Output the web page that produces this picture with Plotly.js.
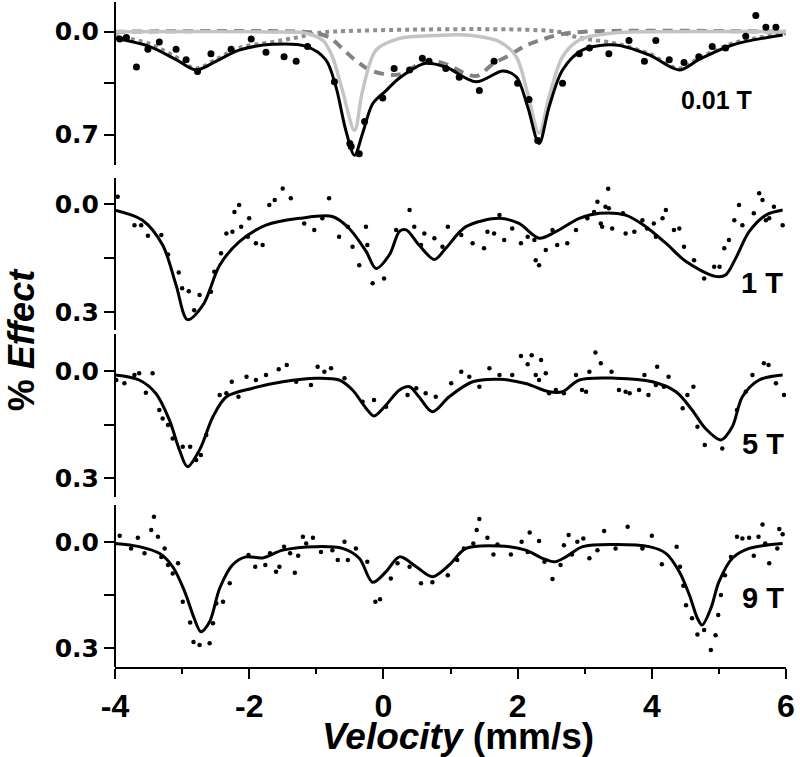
<!DOCTYPE html>
<html>
<head>
<meta charset="utf-8">
<script src="https://cdn.plot.ly/plotly-3.0.1.min.js"></script>
<style>html,body{margin:0;padding:0;background:#fff;}#chart{width:800px;height:757px;}</style>
</head>
<body>
<div id="chart"></div>
<script>
// ---------- Panel 1: 0.01 T ----------
const fit1X = [-4.0,-3.49,-3.09,-2.79,-2.49,-2.15,-1.65,-1.15,-0.86,-0.71,-0.56,-0.43,-0.31,-0.16,0.04,0.24,0.63,0.93,1.38,1.78,1.98,2.15,2.32,2.47,2.67,2.97,3.46,3.96,4.41,4.70,5.20,5.95];
const fit1Y = [0.045,0.10,0.19,0.26,0.20,0.125,0.086,0.10,0.19,0.37,0.67,0.84,0.69,0.49,0.40,0.315,0.215,0.24,0.34,0.267,0.306,0.51,0.76,0.51,0.26,0.124,0.09,0.158,0.26,0.19,0.09,0.022];
const dblX = [-4,-1.5,-1.15,-0.9,-0.76,-0.61,-0.43,-0.31,-0.11,0.24,0.8,1.23,1.73,1.98,2.15,2.32,2.47,2.67,2.92,3.4,4,6];
const dblY = [0,0.002,0.01,0.06,0.17,0.40,0.67,0.40,0.125,0.045,0.025,0.022,0.068,0.17,0.42,0.69,0.44,0.17,0.056,0.01,0,0];
const dshX = [-4,-1.2,-1.0,-0.8,-0.6,-0.4,-0.15,0.24,0.63,0.93,1.2,1.4,1.63,1.88,2.1,2.32,2.62,3.0,6];
const dshY = [0,0,0.01,0.04,0.12,0.2,0.27,0.29,0.2,0.22,0.28,0.30,0.22,0.16,0.1,0.06,0.02,0,0];
const dotX = [-4,-3.5,-3.1,-2.8,-2.5,-2.15,-1.65,-1.3,-1.0,-0.8,2.6,2.9,3.46,3.96,4.41,4.70,5.2,5.6,6];
const dotY = [0.03,0.08,0.17,0.25,0.19,0.11,0.07,0.04,0.01,0,0,0.04,0.08,0.15,0.25,0.18,0.08,0.04,0.01];
const d1X = [-3.93,-3.83,-3.68,-3.51,-3.34,-3.09,-2.94,-2.77,-2.57,-2.27,-1.97,-1.75,-1.48,-1.30,-1.13,-0.73,-0.50,-0.48,-0.36,-0.28,-0.01,0.16,0.39,0.58,0.68,0.93,1.13,1.43,1.65,2.00,2.17,2.30,2.67,2.92,3.07,3.36,3.66,3.89,4.06,4.26,4.48,4.70,4.90,5.10,5.40,5.55,5.70,5.85];
const d1Y = [0.05,0.04,0.24,0.12,0.07,0.12,0.19,0.27,0.15,0.12,0.05,0.14,0.17,0.20,0.10,0.34,0.76,0.78,0.83,0.61,0.45,0.25,0.26,0.18,0.20,0.25,0.31,0.40,0.20,0.35,0.46,0.74,0.35,0.15,0.11,0.15,0.06,0.20,0.06,0.19,0.21,0.17,0.10,0.11,0.03,-0.11,-0.03,-0.03];

// ---------- Panel 2: 1 T ----------
const fit2X = [-4.0,-3.59,-3.29,-3.09,-2.92,-2.69,-2.44,-2.15,-1.75,-1.25,-0.76,-0.51,-0.26,-0.11,0.09,0.24,0.34,0.53,0.76,0.93,1.23,1.73,2.02,2.32,2.57,2.92,3.22,3.61,3.91,4.21,4.51,4.95,5.10,5.25,5.45,5.70,5.95];
const fit2Y = [0.016,0.044,0.113,0.224,0.32,0.28,0.169,0.104,0.058,0.039,0.034,0.067,0.13,0.178,0.14,0.075,0.071,0.113,0.153,0.122,0.062,0.039,0.053,0.094,0.076,0.039,0.025,0.03,0.062,0.108,0.159,0.20,0.196,0.15,0.076,0.03,0.016];
const d2X = [-3.96,-3.71,-3.61,-3.51,-3.31,-3.21,-3.05,-3.0,-2.90,-2.82,-2.74,-2.57,-2.52,-2.42,-2.34,-2.25,-2.22,-2.15,-2.12,-2.02,-2.0,-1.90,-1.80,-1.70,-1.62,-1.50,-1.38,-1.18,-1.03,-0.91,-0.81,-0.66,-0.53,-0.46,-0.36,-0.26,-0.24,-0.16,0.01,0.19,
  0.39,0.46,0.56,0.61,0.76,0.88,0.96,1.16,1.33,1.50,1.55,1.65,1.73,1.80,1.92,2.05,2.15,2.25,2.27,2.32,2.42,2.52,2.59,2.74,2.87,3.04,3.14,3.19,3.24,3.26,3.31,3.36,3.35,3.41,3.57,3.61,3.74,3.86,3.93,4.03,4.06,4.16,4.21,4.33,4.41,4.48,4.63,4.78,4.93,5.01,5.08,5.15,5.23,5.30,5.35,5.52,5.60,5.65,5.70,5.75,5.82,5.95];
const d2Y = [-0.021,0.058,0.058,0.087,0.085,0.139,0.189,0.233,0.241,0.294,0.252,0.243,0.187,0.136,0.081,0.076,0.021,0.002,0.062,0.09,0.039,0.108,0.113,0.002,-0.012,-0.044,-0.017,0.053,0.071,0.039,-0.017,0.09,0.062,0.118,0.169,0.062,0.113,0.219,0.206,0.071,
  0.016,0.062,0.113,0.081,0.094,0.118,0.062,0.085,0.108,0.122,0.076,0.081,0.03,0.099,0.067,0.108,0.09,0.099,0.155,0.169,0.127,0.071,0.113,0.108,0.071,0.039,0.021,-0.007,0.053,0.062,0.007,0.011,-0.043,0.067,0.025,0.081,0.076,0.044,0.067,0.053,0.09,0.039,0.016,0.071,0.067,0.118,0.155,0.206,0.173,0.173,0.122,0.099,0.044,0.002,0.058,0.025,-0.031,-0.012,0.044,0.039,0.007,0.058];

// ---------- Panel 3: 5 T ----------
const fit3X = [-4.0,-3.64,-3.39,-3.19,-3.04,-2.92,-2.74,-2.54,-2.34,-1.95,-1.50,-1.0,-0.66,-0.46,-0.26,-0.14,0.04,0.24,0.39,0.53,0.73,0.98,1.33,1.73,2.12,2.47,2.67,2.92,3.46,4.01,4.36,4.60,4.80,5.03,5.20,5.35,5.60,5.95];
const fit3Y = [0.011,0.025,0.063,0.137,0.221,0.268,0.221,0.128,0.072,0.048,0.03,0.02,0.025,0.053,0.104,0.126,0.095,0.053,0.044,0.072,0.114,0.072,0.03,0.023,0.035,0.058,0.058,0.025,0.02,0.03,0.058,0.109,0.161,0.193,0.156,0.072,0.025,0.011];
const d3X = [-3.98,-3.86,-3.71,-3.64,-3.54,-3.44,-3.34,-3.29,-3.21,-3.14,-2.99,-2.88,-2.79,-2.72,-2.64,-2.44,-2.34,-2.26,-2.16,-2.04,-1.90,-1.75,-1.56,-1.44,-1.30,-1.08,-0.98,-0.88,-0.78,-0.58,-0.31,-0.14,0.04,
  0.36,0.49,0.63,0.78,1.01,1.16,1.28,1.43,1.58,1.73,1.92,2.05,2.15,2.21,2.27,2.35,2.42,2.32,2.47,2.57,2.69,2.87,2.96,3.02,3.07,3.16,3.24,3.40,3.51,3.61,3.67,3.81,3.89,3.95,4.06,4.08,4.18,4.25,4.46,4.53,4.62,4.68,4.79,5.05,5.27,5.40,5.50,5.67,5.74,5.85,5.97];
const d3Y = [0.025,0.034,0.011,0.006,0.061,0.006,0.109,0.133,0.151,0.189,0.212,0.212,0.249,0.235,0.179,0.067,0.062,0.03,0.072,0.016,0.025,0.011,-0.005,-0.017,0.03,0.039,-0.012,0.002,-0.008,0.02,0.086,0.081,0.1,
  0.067,0.048,0.062,0.072,0.034,0.002,0.016,0.044,-0.008,0.011,0.011,-0.042,-0.019,-0.044,0.011,-0.031,0.006,0.025,0.062,0.053,0.062,0.011,0.053,0.058,0.002,-0.052,-0.022,0.002,0.053,0.058,0.062,0.053,0.011,0.067,0.039,-0.012,0.044,0.016,0.104,0.067,0.044,0.156,0.207,0.217,0.109,0.058,0.011,-0.022,-0.017,0.034,0.067];

// ---------- Panel 4: 9 T ----------
const fit4X = [-4.0,-3.64,-3.34,-3.14,-2.96,-2.82,-2.72,-2.59,-2.44,-2.25,-2.05,-1.80,-1.50,-1.0,-0.61,-0.36,-0.16,0.04,0.24,0.49,0.73,0.98,1.23,1.73,2.12,2.37,2.55,2.72,2.97,3.46,3.96,4.21,4.41,4.56,4.68,4.75,4.88,5.0,5.20,5.45,5.95];
const fit4Y = [0.003,0.012,0.031,0.069,0.14,0.215,0.253,0.225,0.13,0.064,0.041,0.044,0.022,0.012,0.017,0.045,0.113,0.083,0.041,0.069,0.097,0.064,0.017,0.01,0.022,0.045,0.055,0.041,0.012,0.006,0.012,0.031,0.083,0.149,0.215,0.234,0.187,0.112,0.045,0.017,0.003];
const d4X = [-3.93,-3.76,-3.66,-3.56,-3.46,-3.42,-3.36,-3.31,-3.26,-3.21,-3.14,-3.06,-2.99,-2.88,-2.83,-2.74,-2.59,-2.54,-2.49,-2.39,-2.29,-2.01,-1.91,-1.76,-1.69,-1.60,-1.55,-1.48,-1.39,-1.32,-1.27,-1.20,-1.15,-1.05,-0.93,-0.76,-0.68,-0.58,-0.53,-0.41,-0.24,-0.12,-0.05,0.11,0.21,
  0.39,0.56,0.73,0.96,1.10,1.20,1.34,1.39,1.43,1.55,1.64,1.70,1.90,2.06,2.18,2.15,2.32,2.40,2.52,2.64,2.69,2.76,2.81,2.89,2.98,3.07,3.19,3.29,3.46,3.64,3.86,4.0,4.15,4.37,4.42,4.47,4.51,4.60,4.68,4.78,4.95,4.88,4.99,5.03,5.09,5.18,5.27,5.35,5.45,5.52,5.59,5.65,5.69,5.75,5.87,5.90,5.95];
const d4Y = [-0.019,0.017,-0.013,0.031,-0.035,-0.073,-0.016,0.041,0.017,0.064,0.088,0.059,0.168,0.227,0.282,0.291,0.286,0.229,0.173,0.168,0.116,0.036,0.069,0.064,0.031,0.083,0.069,0.012,0.031,0.086,0.038,-0.016,0.003,-0.013,0.027,0.022,0.05,-0.002,0.05,0.017,0.055,0.168,0.161,0.102,0.059,
  0.069,0.116,0.113,0.093,0.05,0.017,0.003,-0.035,-0.066,-0.013,0.034,0.006,0.034,-0.002,-0.028,0.027,-0.004,0.055,0.104,0.064,0.008,-0.021,0.034,-0.002,-0.011,0.045,0.022,-0.032,0.017,-0.044,0.017,-0.019,0.062,0.012,0.069,0.123,0.178,0.215,0.261,0.248,0.263,0.305,0.206,0.149,0.093,0.041,-0.016,-0.011,-0.013,0.038,-0.016,-0.051,0.003,0.059,0.017,-0.038,-0.023];

// ---------- tick / label text ----------
const xTicks = [-4,-2,0,2,4,6];
const panelLabels = ['0.01 T','1 T','5 T','9 T'];
const yTickText1 = ['0.0','','0.7'];
const yTickText = ['0.0','','0.3'];

const fitLine = {color:'#000', width:3, shape:'spline', smoothing:0.9};
function dataTrace(x,y,ax,size){return {x:x,y:y,xaxis:'x'+ax,yaxis:'y'+ax,mode:'markers',type:'scatter',marker:{color:'#000',size:size,symbol:'circle'},hoverinfo:'skip'};}
function fitTrace(x,y,ax){return {x:x,y:y,xaxis:'x'+ax,yaxis:'y'+ax,mode:'lines',type:'scatter',line:fitLine,hoverinfo:'skip'};}

const traces = [
  {x:dotX,y:dotY,xaxis:'x',yaxis:'y',mode:'lines',type:'scatter',line:{color:'#8e8e8e',width:4,dash:'dot',shape:'spline'}},
  {x:dshX,y:dshY,xaxis:'x',yaxis:'y',mode:'lines',type:'scatter',line:{color:'#828282',width:4,dash:'10px,7px',shape:'spline'}},
  {x:dblX,y:dblY,xaxis:'x',yaxis:'y',mode:'lines',type:'scatter',line:{color:'#c4c4c4',width:3.5,shape:'spline',smoothing:0.9}},
  dataTrace(d1X,d1Y,'',7),
  fitTrace(fit1X,fit1Y,''),
  dataTrace(d2X,d2Y,'2',4.5),
  fitTrace(fit2X,fit2Y,'2'),
  dataTrace(d3X,d3Y,'3',4.5),
  fitTrace(fit3X,fit3Y,'3'),
  dataTrace(d4X,d4Y,'4',4.5),
  fitTrace(fit4X,fit4Y,'4')
];

const yTickFont = {family:'DejaVu Sans', size:25, color:'#000', weight:'bold'};
function yAxis(domain, range, tickvals, ticktext){
  return {domain:domain, range:range, autorange:false, showline:true, linecolor:'#000', linewidth:2,
    ticks:'outside', ticklen:10, tickwidth:2, tickcolor:'#000', tickvals:tickvals, ticktext:ticktext,
    tickfont:yTickFont, showgrid:false, zeroline:false, anchor:'free', position:0};
}
function hiddenX(){return {range:[-4,6], visible:false, domain:[0,1]};}

const labelFont = {family:'Liberation Sans, Arial', size:29, color:'#000', weight:'bold'};
const layout = {
  width:800, height:757, margin:{l:115, r:14, t:0, b:90},
  paper_bgcolor:'#fff', plot_bgcolor:'rgba(0,0,0,0)', showlegend:false,
  xaxis:{domain:[0,1], range:[-4,6], autorange:false, anchor:'y4', showline:true, linecolor:'#000', linewidth:2,
    ticks:'outside', ticklen:10, tickwidth:2, tickcolor:'#000', tickvals:xTicks, ticktext:xTicks.map(String),
    minor:{dtick:1, tick0:-4, ticks:'outside', ticklen:5, tickwidth:2, tickcolor:'#000'},
    tickfont:{family:'Liberation Sans, Arial', size:32, color:'#000', weight:'bold'}, showgrid:false, zeroline:false},
  xaxis2:hiddenX(), xaxis3:hiddenX(), xaxis4:hiddenX(),
  yaxis:yAxis([0.7526,0.997],[0.906,-0.202],[0,0.35,0.7],yTickText1),
  yaxis2:yAxis([0.5052,0.7331],[0.349,-0.073],[0,0.15,0.3],yTickText),
  yaxis3:yAxis([0.2549,0.4993],[0.353,-0.104],[0,0.15,0.3],yTickText),
  yaxis4:yAxis([0,0.2429],[0.353,-0.106],[0,0.15,0.3],yTickText),
  annotations:[
    {text:panelLabels[0], xref:'paper', yref:'paper', x:0.952, y:0.850, xanchor:'right', yanchor:'middle', showarrow:false,
      font:{family:'Liberation Sans, Arial', size:25, color:'#000', weight:'bold'}},
    {text:panelLabels[1], xref:'paper', yref:'paper', x:0.9985, y:0.575, xanchor:'right', yanchor:'middle', showarrow:false, font:labelFont},
    {text:panelLabels[2], xref:'paper', yref:'paper', x:1.0, y:0.334, xanchor:'right', yanchor:'middle', showarrow:false, font:labelFont},
    {text:panelLabels[3], xref:'paper', yref:'paper', x:1.0, y:0.104, xanchor:'right', yanchor:'middle', showarrow:false, font:labelFont},
    {text:'<i>Velocity</i> (mm/s)', xref:'paper', yref:'paper', x:0.511, y:-0.104, xanchor:'center', yanchor:'middle', showarrow:false,
      font:{family:'Liberation Sans, Arial', size:37, color:'#000', weight:'bold'}},
    {text:'% <i>Effect</i>', xref:'paper', yref:'paper', x:-0.1400, y:0.49, xanchor:'center', yanchor:'middle', textangle:-90, showarrow:false,
      font:{family:'Liberation Sans, Arial', size:36, color:'#000', weight:'bold'}}
  ]
};

Plotly.newPlot('chart', traces, layout, {staticPlot:true, displayModeBar:false});
</script>
</body>
</html>
